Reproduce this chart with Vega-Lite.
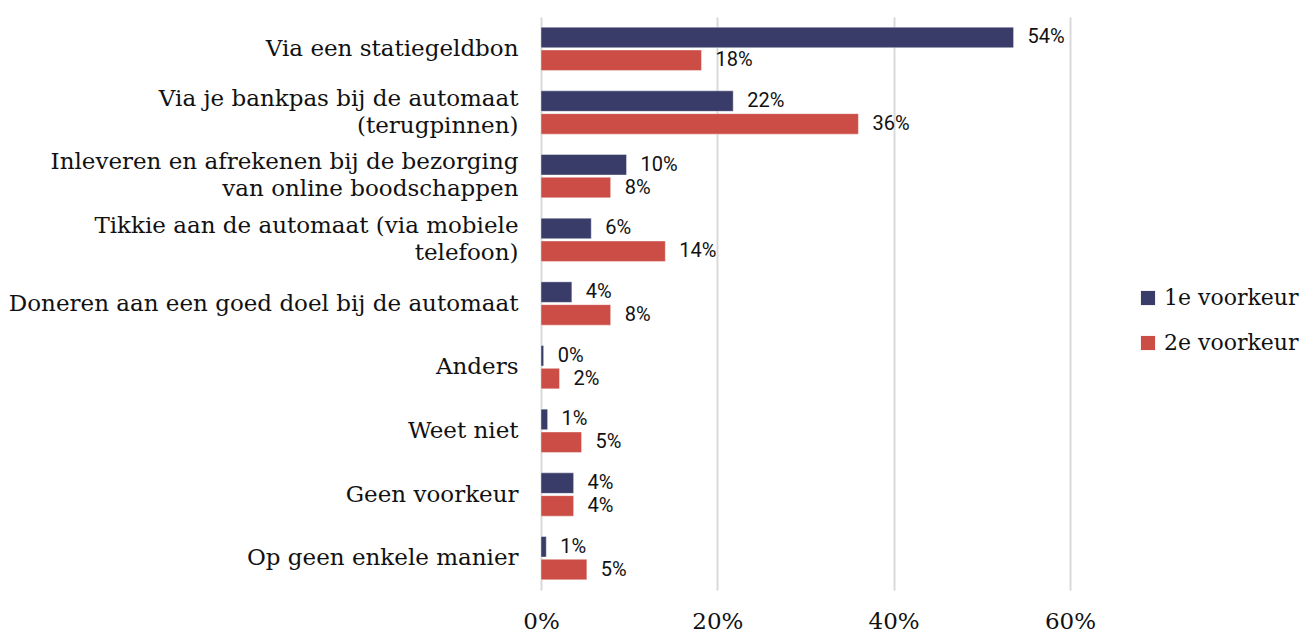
{
  "$schema": "https://vega.github.io/schema/vega-lite/v6.json",
  "autosize": "none",
  "padding": {"left": 541, "top": 17, "right": 232, "bottom": 43},
  "width": 529,
  "height": 573,
  "background": "white",
  "config": {"view": {"stroke": null}},
  "data": {
    "values": [
      {"cat": "Via een statiegeldbon", "series": "1e voorkeur", "value": 0.536},
      {"cat": "Via een statiegeldbon", "series": "2e voorkeur", "value": 0.182},
      {"cat": "Via je bankpas bij de automaat|(terugpinnen)", "series": "1e voorkeur", "value": 0.218},
      {"cat": "Via je bankpas bij de automaat|(terugpinnen)", "series": "2e voorkeur", "value": 0.36},
      {"cat": "Inleveren en afrekenen bij de bezorging|van online boodschappen", "series": "1e voorkeur", "value": 0.097},
      {"cat": "Inleveren en afrekenen bij de bezorging|van online boodschappen", "series": "2e voorkeur", "value": 0.079},
      {"cat": "Tikkie aan de automaat (via mobiele|telefoon)", "series": "1e voorkeur", "value": 0.057},
      {"cat": "Tikkie aan de automaat (via mobiele|telefoon)", "series": "2e voorkeur", "value": 0.141},
      {"cat": "Doneren aan een goed doel bij de automaat", "series": "1e voorkeur", "value": 0.035},
      {"cat": "Doneren aan een goed doel bij de automaat", "series": "2e voorkeur", "value": 0.079},
      {"cat": "Anders", "series": "1e voorkeur", "value": 0.003},
      {"cat": "Anders", "series": "2e voorkeur", "value": 0.021},
      {"cat": "Weet niet", "series": "1e voorkeur", "value": 0.0075},
      {"cat": "Weet niet", "series": "2e voorkeur", "value": 0.046},
      {"cat": "Geen voorkeur", "series": "1e voorkeur", "value": 0.037},
      {"cat": "Geen voorkeur", "series": "2e voorkeur", "value": 0.037},
      {"cat": "Op geen enkele manier", "series": "1e voorkeur", "value": 0.006},
      {"cat": "Op geen enkele manier", "series": "2e voorkeur", "value": 0.052}
    ]
  },
  "encoding": {
    "y": {
      "field": "cat",
      "type": "nominal",
      "sort": null,
      "scale": {"paddingInner": 0.32, "paddingOuter": 0.16},
      "axis": {
        "title": null,
        "domain": false,
        "ticks": false,
        "labelExpr": "split(datum.label, '|')",
        "labelFont": "DejaVu Serif",
        "labelFontSize": 23,
        "labelColor": "#111111",
        "labelPadding": 23,
        "labelLineHeight": 27,
        "labelLimit": 600,
        "labelAlign": "right",
        "labelBaseline": {"condition": {"test": "indexof(datum.value, '|') >= 0", "value": "line-bottom"}, "value": "middle"}
      }
    },
    "yOffset": {
      "field": "series",
      "type": "nominal",
      "scale": {"paddingInner": 0.1}
    },
    "x": {
      "field": "value",
      "type": "quantitative",
      "scale": {"domain": [0, 0.6], "nice": false},
      "axis": {
        "title": null,
        "format": ".0%",
        "values": [0, 0.2, 0.4, 0.6],
        "domain": false,
        "ticks": false,
        "grid": true,
        "gridColor": "#d9d9d9",
        "gridWidth": 2,
        "labelFont": "DejaVu Serif",
        "labelFontSize": 23,
        "labelColor": "#111111",
        "labelPadding": 20,
        "labelFlush": false
      }
    }
  },
  "layer": [
    {
      "mark": {"type": "bar", "stroke": "white", "strokeOpacity": 0.4, "strokeWidth": 1},
      "encoding": {
        "color": {
          "field": "series",
          "type": "nominal",
          "scale": {"domain": ["1e voorkeur", "2e voorkeur"], "range": ["#393c69", "#cc4d45"]},
          "legend": {
            "title": null,
            "orient": "none",
            "legendX": 596,
            "legendY": 270,
            "symbolType": "square",
            "symbolSize": 200,
            "symbolStrokeWidth": 0,
            "labelFont": "DejaVu Serif",
            "labelFontSize": 22,
            "labelColor": "#111111",
            "rowPadding": 23,
            "labelOffset": 5
          }
        }
      }
    },
    {
      "mark": {"type": "text", "align": "left", "baseline": "middle", "dx": 14, "font": "Roboto", "fontSize": 20, "color": "#111111"},
      "encoding": {
        "text": {"field": "value", "type": "quantitative", "format": ".0%"}
      }
    }
  ]
}
